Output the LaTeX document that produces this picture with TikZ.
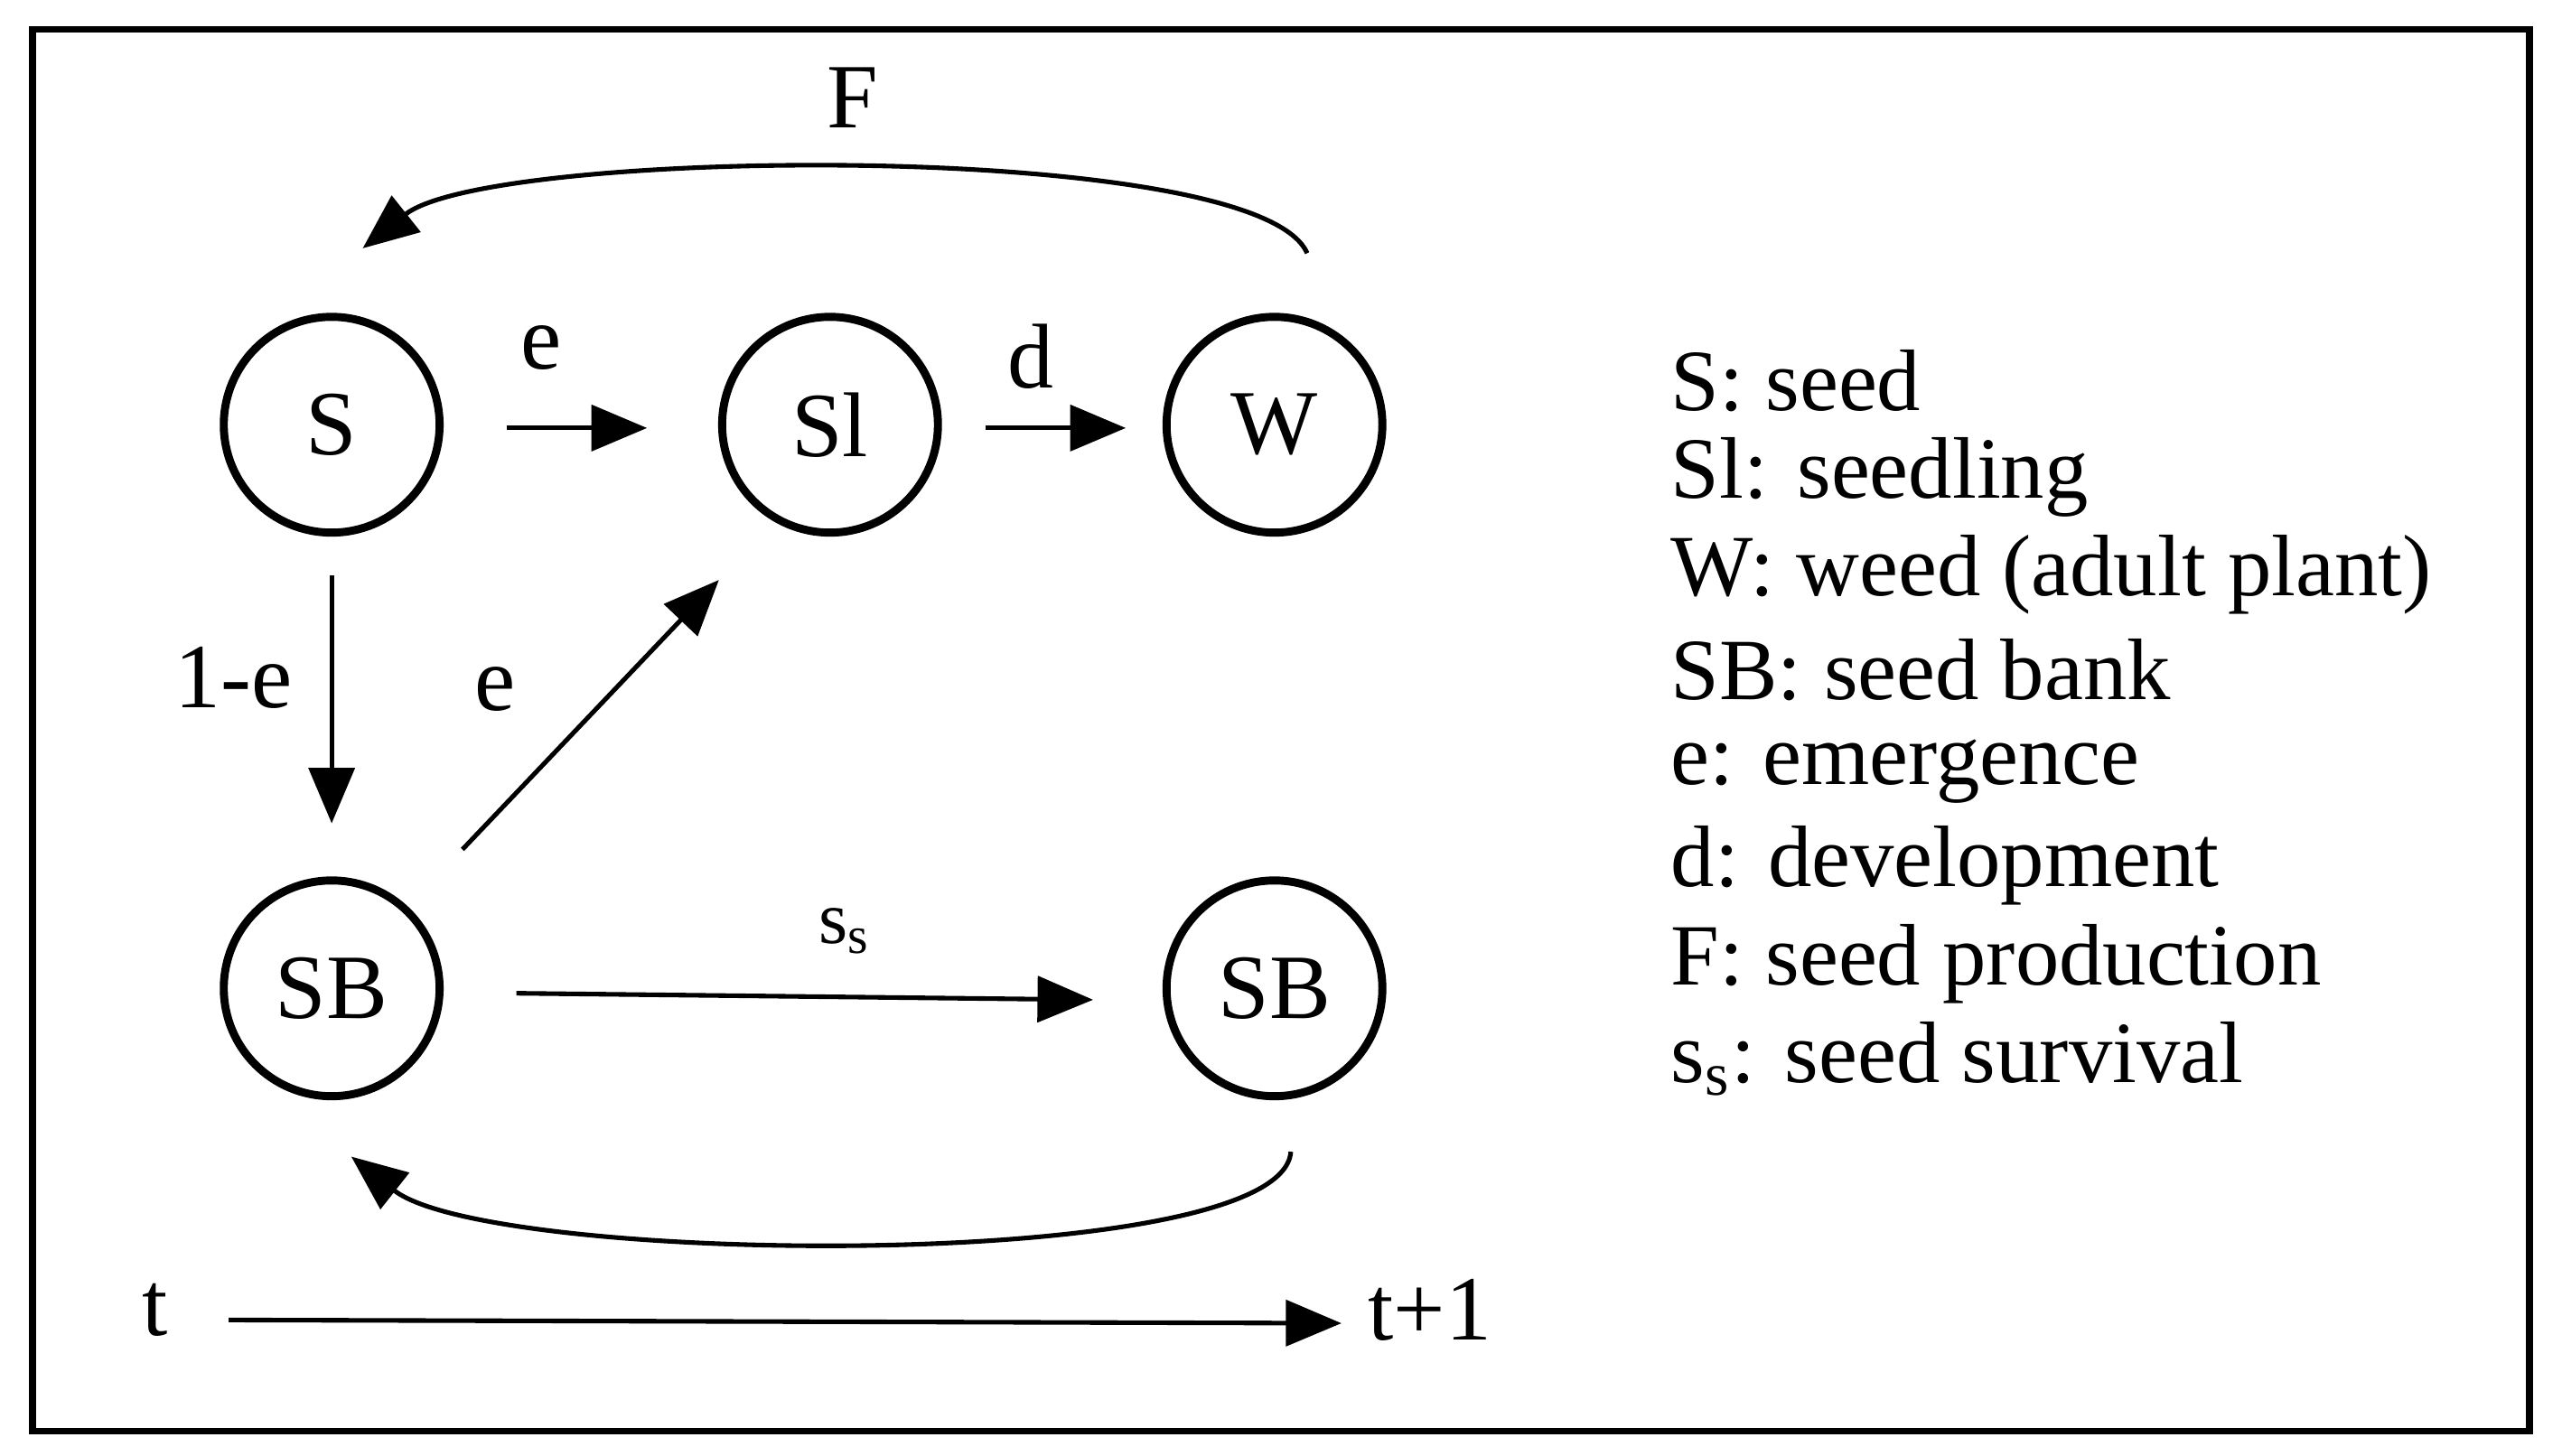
\documentclass[tikz,border=0pt]{standalone}
\usepackage{fontspec}
\setmainfont{Liberation Serif}
\usetikzlibrary{arrows.meta}
\begin{document}
\begin{tikzpicture}[x=0.01cm,y=-0.01cm,
  st/.style={circle,draw,line width=1.4pt,minimum size=1.32cm,inner sep=0pt,font=\fontsize{16}{19}\selectfont},
  lb/.style={font=\fontsize{16}{19}\selectfont,inner sep=0pt},
  kl/.style={font=\fontsize{15.2}{18}\selectfont,inner sep=0pt,anchor=west},
  ar/.style={line width=0.8pt,-{Triangle[length=0.34cm,width=0.28cm]}}]
\useasboundingbox (0,0) rectangle (1568,891);
\draw[line width=1.2pt] (20,18) rectangle (1548,876);
\node[st] (S) at (203,260) {S};
\node[st] (Sl) at (508,260) {Sl};
\node[st] (W) at (780,260) {W};
\node[st] (SB) at (203,605) {SB};
\node[st] (SB2) at (780,605) {SB};
\coordinate (a1) at (310,262); \coordinate (a2) at (396,262);
\coordinate (b1) at (603,262); \coordinate (b2) at (689,262);
\coordinate (c1) at (203,352); \coordinate (c2) at (203,504);
\coordinate (d1) at (283,520); \coordinate (d2) at (440,355);
\coordinate (e1) at (316,608); \coordinate (e2) at (669,612);
\coordinate (f1) at (800,155); \coordinate (f2) at (222,152);
\coordinate (g1) at (790,705); \coordinate (g2) at (215,708);
\coordinate (h1) at (140,808); \coordinate (h2) at (821,810);
\draw[ar] (a1) -- (a2);
\draw[ar] (b1) -- (b2);
\draw[ar] (c1) -- (c2);
\draw[ar] (d1) -- (d2);
\draw[ar] (e1) -- (e2);
\draw[ar] (f1) .. controls (770,85) and (300,90) .. (f2);
\draw[ar] (g1) .. controls (785,780) and (300,775) .. (g2);
\draw[ar] (h1) -- (h2);
\node[lb] (le1) at (331,213) {e};
\node[lb] (ld) at (631,218) {d};
\node[lb] (l1e) at (143,415) {1-e};
\node[lb] (le2) at (303,422) {e};
\node[lb,font=\fontsize{13}{15}\selectfont] (lss) at (517,570) {s\textsubscript{s}};
\node[lb] (lF) at (522,60) {F};
\node[lb] (lt) at (95,802) {t};
\node[lb] (lt1) at (875,802) {t+1};
\node[kl] (k1) at (1022,233) {S: seed};
\node[kl] (k2) at (1022,292) {Sl: seedling};
\node[kl] (k3) at (1022,352) {W: weed (adult plant)};
\node[kl] (k4) at (1022,410) {SB: seed bank};
\node[kl] (k5) at (1022,472) {e: emergence};
\node[kl] (k6) at (1022,530) {d: development};
\node[kl] (k7) at (1022,590) {F: seed production};
\node[kl] (k8) at (1022,648) {s\textsubscript{s}: seed survival};
\end{tikzpicture}
\end{document}
